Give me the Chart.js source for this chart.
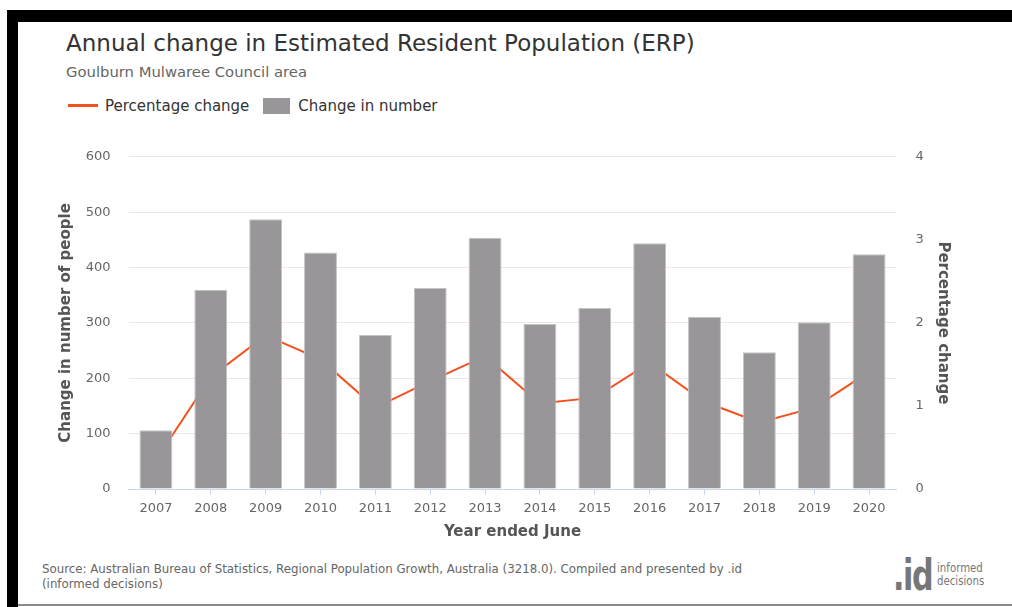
<!DOCTYPE html>
<html>
<head>
<meta charset="utf-8">
<script src="https://cdn.jsdelivr.net/npm/chart.js@4"></script>
<style>
  body { margin: 0; background: #fff; font-family: "DejaVu Sans", sans-serif; }
  #page { position: relative; width: 1012px; height: 607px; overflow: hidden; }
  .frame-top { position: absolute; left: 7px; top: 10px; width: 1005px; height: 12px; background: #000; }
  .frame-left { position: absolute; left: 7px; top: 10px; width: 11px; height: 597px; background: #000; }
  .frame-bottom { position: absolute; left: 18px; top: 604px; width: 994px; height: 2px; background: #8a8a8a; }
  #title { position: absolute; left: 66px; top: 30px; font-size: 23px; color: #333; white-space: nowrap; }
  #subtitle { position: absolute; left: 66px; top: 63px; font-size: 14.8px; color: #666; white-space: nowrap; }
  #legend { position: absolute; left: 68px; top: 96px; font-size: 15px; color: #333; white-space: nowrap; }
  #legend span { display: inline-block; vertical-align: middle; }
  .leg-line { width: 30px; height: 3px; background: #f4511e; margin-right: 7px; }
  .leg-box { width: 27px; height: 16px; background: #989698; margin: 0 8px 0 14px; }
  #chartBox { position: absolute; left: 0; top: 130px; width: 1012px; height: 420px; }
  #source { position: absolute; left: 42px; top: 562px; font-size: 11.8px; line-height: 15px; color: #666; white-space: nowrap; }
  #logo { position: absolute; left: 893px; top: 551px; width: 110px; height: 50px; color: #777; white-space: nowrap; }
  #logo .big { position: absolute; left: 0; top: 0; font-size: 42px; font-weight: bold; letter-spacing: -2px; transform: scaleX(0.72); transform-origin: left top; }
  #logo .small { position: absolute; left: 44px; top: 11px; font-size: 12px; line-height: 13px; transform: scaleX(0.85); transform-origin: left top; }
</style>
</head>
<body>
<div id="page">
  <div class="frame-top"></div>
  <div class="frame-left"></div>
  <div class="frame-bottom"></div>
  <div id="title">Annual change in Estimated Resident Population (ERP)</div>
  <div id="subtitle">Goulburn Mulwaree Council area</div>
  <div id="legend"><span class="leg-line"></span><span>Percentage change</span><span class="leg-box"></span><span>Change in number</span></div>
  <div id="chartBox"><canvas id="erpChart" width="1012" height="420"></canvas></div>
  <div id="source">Source: Australian Bureau of Statistics, Regional Population Growth, Australia (3218.0). Compiled and presented by .id<br>(informed decisions)</div>
  <div id="logo"><span class="big">.id</span><span class="small">informed<br>decisions</span></div>
</div>
<script>
const years = ['2007', '2008', '2009', '2010', '2011', '2012', '2013', '2014', '2015', '2016', '2017', '2018', '2019', '2020'];
const changeInNumber = [106, 360, 487, 427, 278, 363, 454, 298, 327, 444, 311, 247, 301, 424];
const percentageChange = [0.35, 1.35, 1.85, 1.56, 0.98, 1.3, 1.6, 1.03, 1.1, 1.52, 1.05, 0.8, 0.98, 1.41];
const numberTicks = [0, 600, 100];
const percentTicks = [0, 4, 1];

const tickFont = { family: 'DejaVu Sans', size: 13 };
const titleFont = { family: 'DejaVu Sans', size: 15, weight: 'bold' };

const ctx = document.getElementById('erpChart').getContext('2d');
new Chart(ctx, {
    type: 'bar',
    data: {
        labels: years,
        datasets: [{
            type: 'line',
            label: 'Percentage change',
            data: percentageChange,
            yAxisID: 'y1',
            borderColor: '#f4511e',
            borderWidth: 2,
            pointRadius: 0,
            tension: 0,
            order: 2
        }, {
            type: 'bar',
            label: 'Change in number',
            data: changeInNumber,
            yAxisID: 'y',
            backgroundColor: '#989698',
            borderColor: '#c4c4c6',
            borderWidth: 1,
            barPercentage: 0.6,
            categoryPercentage: 1,
            order: 1
        }]
    },
    options: {
        responsive: false,
        animation: false,
        layout: { padding: { top: 25, left: 0, right: 0, bottom: 0 } },
        plugins: { legend: { display: false }, tooltip: { enabled: false } },
        scales: {
            x: {
                grid: { display: true, drawOnChartArea: false, offset: false, color: '#ccd6eb', tickLength: 6 },
                border: { color: '#ccd6eb', width: 1 },
                ticks: { font: tickFont, color: '#666', padding: 6, maxRotation: 0 },
                title: { display: true, text: 'Year ended June', font: titleFont, color: '#555', padding: { top: 0, bottom: 9 } },
                afterFit: s => { s.height = 61; }
            },
            y: {
                position: 'left',
                min: numberTicks[0],
                max: numberTicks[1],
                ticks: { stepSize: numberTicks[2], font: tickFont, color: '#666', padding: 18 },
                grid: { color: '#ece8e8', drawTicks: false },
                border: { display: false },
                title: { display: true, text: 'Change in number of people', font: titleFont, color: '#555', padding: { top: 57, bottom: 0 } },
                afterFit: s => { s.width = 128.5; }
            },
            y1: {
                position: 'right',
                min: percentTicks[0],
                max: percentTicks[1],
                ticks: { stepSize: percentTicks[2], font: tickFont, color: '#666', padding: 19 },
                grid: { drawOnChartArea: false, drawTicks: false },
                border: { display: false },
                title: { display: true, text: 'Percentage change', font: titleFont, color: '#555', padding: { top: 60, bottom: 0 } },
                afterFit: s => { s.width = 115.5; }
            }
        }
    }
});
</script>
</body>
</html>
